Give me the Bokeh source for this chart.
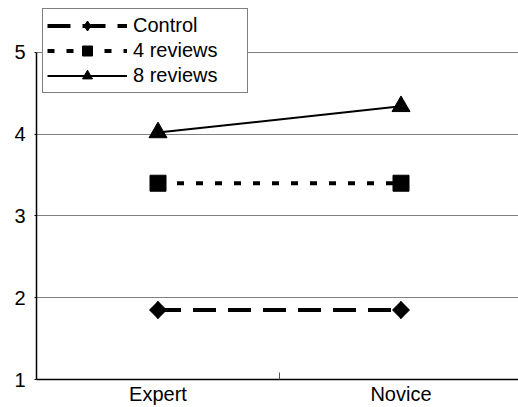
import math
from bokeh.plotting import figure
from bokeh.models import FixedTicker, Legend, LegendItem, Range1d
from bokeh.embed import file_html
from bokeh.resources import INLINE

# ---- data ----
categories = ["Expert", "Novice"]
control = [1.85, 1.85]
reviews4 = [3.40, 3.40]
reviews8 = [4.02, 4.34]
y_ticks = [1, 2, 3, 4, 5]

x_pos = [i + 0.5 for i in range(len(categories))]
x_bounds = [float(i) for i in range(1, len(categories))]

FONT = "Liberation Sans"

# layout (pixels)
W, H = 518, 407
LEFT, TOP, BOTTOM = 36, 8, 380    # frame left / top / bottom in page pixels
Y5_PIX = 52                       # where y = 5 sits
px_per_unit = (BOTTOM - Y5_PIX) / (y_ticks[-1] - y_ticks[0])
y_end = y_ticks[-1] + (Y5_PIX - TOP) / px_per_unit
x_end = (W - LEFT) / 243.0

p = figure(width=W, height=H,
           x_range=Range1d(0, x_end), y_range=Range1d(y_ticks[0], y_end),
           output_backend="svg", toolbar_location=None,
           min_border_left=LEFT, min_border_right=0,
           min_border_top=TOP, min_border_bottom=H - BOTTOM)
p.outline_line_color = None
p.background_fill_color = "white"
p.border_fill_color = "white"

p.xgrid.visible = False
p.ygrid.grid_line_color = "#808080"
p.ygrid.grid_line_width = 1
p.ygrid.ticker = FixedTicker(ticks=y_ticks)

# y axis
p.yaxis.ticker = FixedTicker(ticks=y_ticks)
p.yaxis.bounds = (y_ticks[0], y_ticks[-1])
p.yaxis.axis_line_color = "black"
p.yaxis.axis_line_width = 1.5
p.yaxis.major_tick_in = 0
p.yaxis.major_tick_out = 2
p.yaxis.major_tick_line_color = "black"
p.yaxis.minor_tick_line_color = None
p.yaxis.major_label_standoff = 9
p.yaxis.major_label_text_font = FONT
p.yaxis.major_label_text_font_size = "20px"
p.yaxis.major_label_text_color = "black"

# x axis
p.xaxis.ticker = FixedTicker(ticks=x_pos, minor_ticks=x_bounds)
p.xaxis.major_label_overrides = {x: c for x, c in zip(x_pos, categories)}
p.xaxis.axis_line_color = "black"
p.xaxis.axis_line_width = 1.5
p.xaxis.major_tick_in = 0
p.xaxis.major_tick_out = 0
p.xaxis.minor_tick_in = 7
p.xaxis.minor_tick_out = 0
p.xaxis.minor_tick_line_color = "#555555"
p.xaxis.minor_tick_line_width = 1
p.xaxis.major_label_standoff = 3
p.xaxis.major_label_text_font = FONT
p.xaxis.major_label_text_font_size = "20px"
p.xaxis.major_label_text_color = "black"

# series
c_line = p.line(x_pos, control, line_color="black", line_width=4, line_dash="23 12")
c_leg = p.scatter(x_pos, control, marker="diamond", size=17,
                  fill_color="black", line_color="black")
c_mark = p.scatter(x_pos, control, marker="square", angle=math.pi / 4, size=12,
                   fill_color="black", line_color="black")
r4_line = p.line(x_pos, reviews4, line_color="black", line_width=4, line_dash="7 12")
r4_mark = p.scatter(x_pos, reviews4, marker="square", size=16,
                    fill_color="black", line_color="black")
r8_line = p.line(x_pos, reviews8, line_color="black", line_width=2)
r8_mark = p.scatter(x_pos, reviews8, marker="triangle", size=18,
                    fill_color="black", line_color="black")

legend = Legend(items=[
    LegendItem(label="Control", renderers=[c_line, c_leg]),
    LegendItem(label="4 reviews", renderers=[r4_line, r4_mark]),
    LegendItem(label="8 reviews", renderers=[r8_line, r8_mark]),
], location=(6, BOTTOM - 94))
legend.border_line_color = "black"
legend.border_line_width = 1
legend.background_fill_color = "white"
legend.background_fill_alpha = 1
legend.padding = 4
legend.spacing = 0
legend.margin = 0
legend.glyph_width = 80
legend.glyph_height = 25
legend.label_standoff = 6
legend.label_width = 110
legend.label_height = 20
legend.label_text_font = FONT
legend.label_text_font_size = "20px"
legend.label_text_color = "black"
p.add_layout(legend)

open("out.html", "w").write(file_html(p, INLINE))
